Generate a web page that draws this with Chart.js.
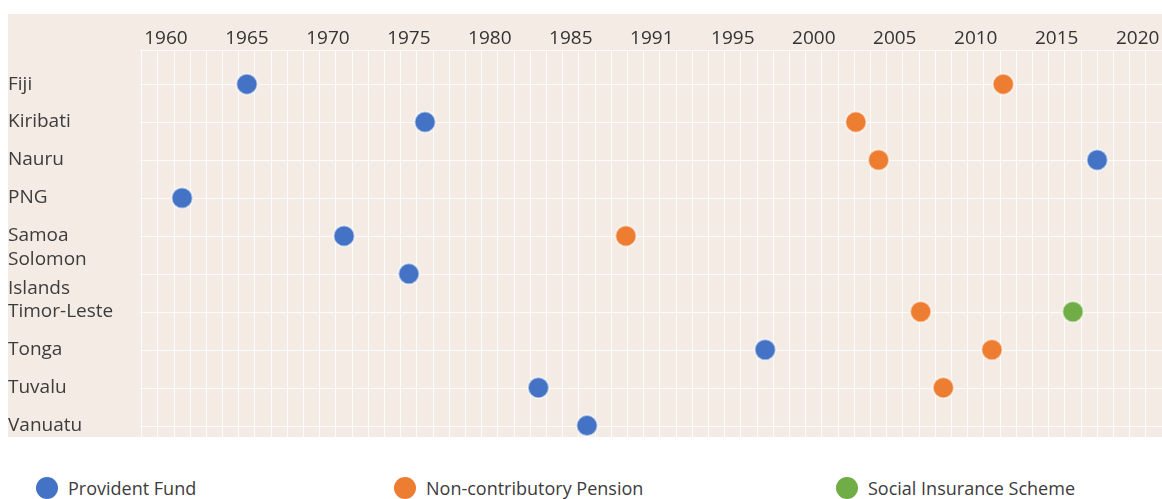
<!DOCTYPE html>
<html>
<head>
<meta charset="utf-8">
<script src="https://cdn.jsdelivr.net/npm/chart.js@4/dist/chart.umd.min.js"></script>
<style>
  body { margin: 0; background: #fff; font-family: "Open Sans", sans-serif; }
  #plot { position: absolute; left: 8px; top: 14px; width: 1154px; height: 423px; background: #f3ebe4; }
  #legend {
    position: absolute; left: 36px; top: 476px; height: 24px;
    display: grid; grid-template-columns: 358px 442px auto; align-items: center;
  }
  .item { display: flex; align-items: center; font-size: 18px; color: #3c3c3c; white-space: nowrap; }
  .dot { width: 22px; height: 22px; border-radius: 50%; margin-right: 10px; }
</style>
</head>
<body>
<div id="plot"><canvas id="timeline" width="1154" height="423"></canvas></div>
<div id="legend"></div>
<script>
const countries = ["Fiji", "Kiribati", "Nauru", "PNG", "Samoa", "Solomon Islands", "Timor-Leste", "Tonga", "Tuvalu", "Vanuatu"];

// year each scheme started, per country (null = none)
const providentFund = [1965, 1976, 2017.5, 1961, 1971, 1975, null, 1997, 1983, 1986];
const nonContributoryPension = [2011.7, 2002.6, 2004, null, 1988.4, null, 2006.6, 2011, 2008, null];
const socialInsurance = [null, null, null, null, null, null, 2016, null, null, null];

const yearTicks = [1960, 1965, 1970, 1975, 1980, 1985, 1990, 1995, 2000, 2005, 2010, 2015, 2020];
const yearLabels = ["1960", "1965", "1970", "1975", "1980", "1985", "1991", "1995", "2000", "2005", "2010", "2015", "2020"];

const seriesNames = ["Provident Fund", "Non-contributory Pension", "Social Insurance Scheme"];
const seriesColors = ["#4472c4", "#ed7d31", "#70ad47"];
const seriesValues = [providentFund, nonContributoryPension, socialInsurance];

function toPoints(years) {
  const pts = [];
  years.forEach((year, i) => {
    if (year !== null) pts.push({ x: year, y: i });
  });
  return pts;
}

// faint white row lines across the plot
const rowLines = {
  id: "rowLines",
  beforeDatasetsDraw(chart) {
    const ctx = chart.ctx;
    const area = chart.chartArea;
    const yScale = chart.scales.y;
    ctx.save();
    ctx.strokeStyle = "rgba(255,255,255,0.8)";
    ctx.lineWidth = 1;
    const ys = [area.top];
    countries.forEach((c, i) => ys.push(yScale.getPixelForValue(i)));
    ys.forEach((y) => {
      ctx.beginPath();
      ctx.moveTo(area.left, Math.round(y) + 0.5);
      ctx.lineTo(area.right, Math.round(y) + 0.5);
      ctx.stroke();
    });
    ctx.restore();
  },
};

// labels sit inside the axis range, so no edge padding is needed
function noEdgePadding(scale) {
  scale.paddingTop = 0;
  scale.paddingBottom = 0;
  scale.paddingLeft = 0;
  scale.paddingRight = 0;
}

new Chart(document.getElementById("timeline"), {
  type: "scatter",
  data: {
    datasets: seriesNames.map((name, k) => ({
      label: name,
      data: toPoints(seriesValues[k]),
      backgroundColor: seriesColors[k],
      borderColor: "rgba(255,255,255,0.55)",
      borderWidth: 2,
      pointRadius: 10.5,
      pointHoverRadius: 10.5,
    })),
  },
  options: {
    responsive: false,
    animation: false,
    layout: { padding: 0, autoPadding: false },
    plugins: { legend: { display: false }, tooltip: { enabled: false } },
    scales: {
      x: {
        position: "top",
        min: 1958.4,
        max: 2021.5,
        afterBuildTicks: (scale) => {
          const ticks = [];
          for (let v = 1958.5; v <= 2021.5; v += 0.5) ticks.push({ value: v });
          scale.ticks = ticks;
        },
        afterFit: (scale) => {
          scale.height = 36;
          noEdgePadding(scale);
        },
        grid: {
          drawTicks: false,
          lineWidth: 1,
          color: (ctx) => (ctx.tick && ctx.tick.value % 1 !== 0 ? "rgba(255,255,255,0.85)" : "rgba(0,0,0,0)"),
        },
        border: { display: false },
        ticks: {
          autoSkip: false,
          maxRotation: 0,
          padding: 0,
          color: "#333",
          font: { family: "Open Sans", size: 19 },
          callback: (value) => {
            const idx = yearTicks.indexOf(value);
            return idx >= 0 ? yearLabels[idx] : "";
          },
        },
      },
      y: {
        type: "linear",
        reverse: true,
        min: -0.9,
        max: 9.3,
        afterBuildTicks: (scale) => {
          scale.ticks = countries.map((c, i) => ({ value: i }));
        },
        afterFit: (scale) => {
          scale.width = 132;
          noEdgePadding(scale);
        },
        grid: { display: false },
        border: { display: false },
        ticks: {
          autoSkip: false,
          crossAlign: "far",
          padding: 0,
          color: "#3c3c3c",
          font: { family: "Open Sans", size: 19, lineHeight: 1.5 },
          callback: (value) => {
            const name = countries[value];
            return name && name.includes(" ") ? name.split(" ") : name;
          },
        },
      },
    },
  },
  plugins: [rowLines],
});

document.getElementById("legend").innerHTML = seriesNames
  .map((name, k) => `<div class="item"><span class="dot" style="background:${seriesColors[k]}"></span>${name}</div>`)
  .join("");
</script>
</body>
</html>
